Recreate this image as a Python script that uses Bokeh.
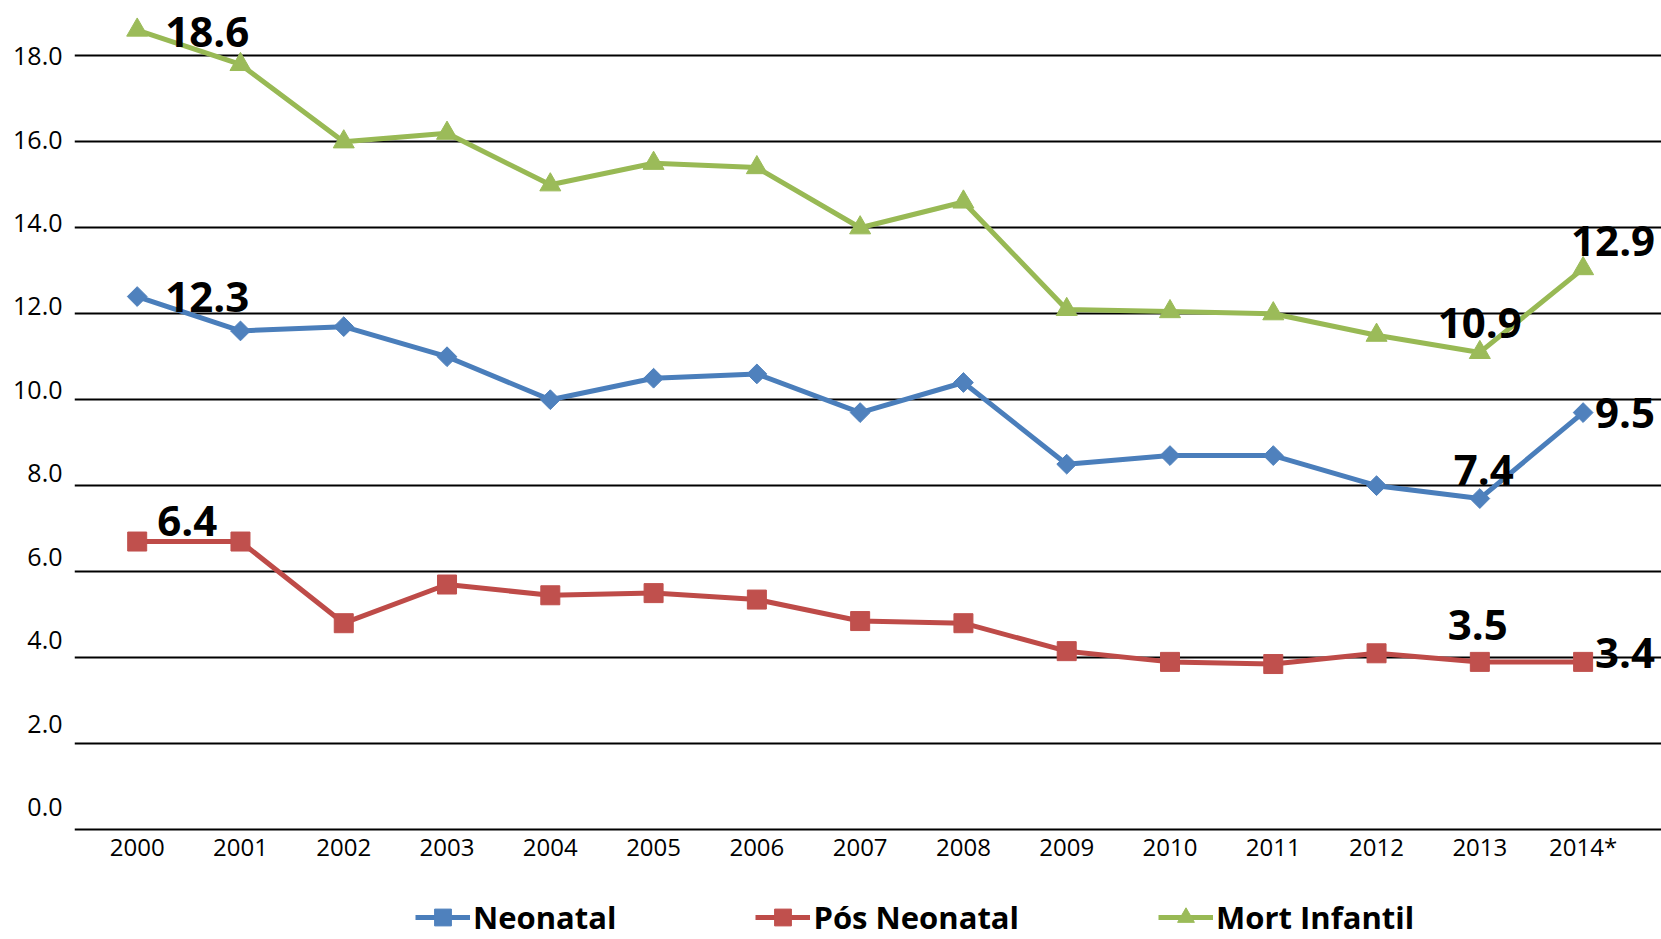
import math
from bokeh.plotting import figure
from bokeh.models import (Range1d, LinearAxis, FixedTicker, Legend, LegendItem,
                          ColumnDataSource)
from bokeh.core.properties import value
from bokeh.embed import file_html
from bokeh.resources import INLINE

# ---------------- data ----------------
years = [2000, 2001, 2002, 2003, 2004, 2005, 2006, 2007, 2008, 2009, 2010, 2011, 2012, 2013, 2014]
year_labels = ["2000", "2001", "2002", "2003", "2004", "2005", "2006", "2007", "2008",
               "2009", "2010", "2011", "2012", "2013", "2014*"]

neonatal = [12.4, 11.6, 11.7, 11.0, 10.0, 10.5, 10.6, 9.7, 10.4, 8.5, 8.7, 8.7, 8.0, 7.7, 9.7]
pos_neonatal = [6.7, 6.7, 4.8, 5.7, 5.45, 5.5, 5.35, 4.85, 4.8, 4.15, 3.9, 3.85, 4.1, 3.9, 3.9]
mort_infantil = [18.6, 17.8, 16.0, 16.2, 15.0, 15.5, 15.4, 14.0, 14.6, 12.1, 12.05, 12.0, 11.5, 11.1, 13.05]

series_names = ["Neonatal", "Pós Neonatal", "Mort Infantil"]

y_ticks = [0, 2, 4, 6, 8, 10, 12, 14, 16, 18]
y_tick_labels = ["0.0", "2.0", "4.0", "6.0", "8.0", "10.0", "12.0", "14.0", "16.0", "18.0"]

# data labels shown on the chart
label_series = ["Mort Infantil", "Neonatal", "Pós Neonatal", "Mort Infantil", "Mort Infantil",
                "Neonatal", "Neonatal", "Pós Neonatal", "Pós Neonatal"]
label_years = [2000, 2000, 2000, 2013, 2014, 2013, 2014, 2013, 2014]
label_texts = ["18.6", "12.3", "6.4", "10.9", "12.9", "7.4", "9.5", "3.5", "3.4"]

# ---------------- styling ----------------
FONT = "Open Sans"
colors = {"Neonatal": "#4A7EBB", "Pós Neonatal": "#BE4B48", "Mort Infantil": "#98B954"}
marker_fill = {"Neonatal": "#4F81BD", "Pós Neonatal": "#C0504D", "Mort Infantil": "#9BBB59"}
markers = {"Neonatal": "square", "Pós Neonatal": "square", "Mort Infantil": "triangle"}
msizes = {"Neonatal": 14, "Pós Neonatal": 19, "Mort Infantil": 21}
mangles = {"Neonatal": math.pi / 4, "Pós Neonatal": 0.0, "Mort Infantil": 0.0}
series_vals = {"Neonatal": neonatal, "Pós Neonatal": pos_neonatal, "Mort Infantil": mort_infantil}

# per-label screen offsets (px) and alignment
label_dx = [28, 28, 20, 0, 30, 4, 42, -2, 42]
label_dy = [2, 0, -21, -29, -28, -29, 0, -37, -9]
label_align = ["left", "left", "left", "center", "center", "center", "center", "center", "center"]

# frame fills the figure height; the x axis is pinned at y = 0 so the legend
# can sit beneath it inside the frame
p = figure(width=1661, height=939,
           x_range=Range1d(1999.393, 2014.759), y_range=Range1d(-2.559, 19.288),
           output_backend="svg", toolbar_location=None,
           y_axis_location=None,
           min_border_left=74, min_border_right=0, min_border_top=0, min_border_bottom=0)
p.outline_line_color = None
p.background_fill_color = "white"
p.border_fill_color = "white"

# x axis
xa = p.xaxis[0]
xa.fixed_location = 0
xa.ticker = FixedTicker(ticks=years)
xa.major_label_overrides = {y: l for y, l in zip(years, year_labels)}
xa.axis_line_color = "black"
xa.axis_line_width = 2
xa.major_tick_line_color = None
xa.minor_tick_line_color = None
xa.major_tick_out = 0
xa.major_tick_in = 0
xa.major_label_standoff = 0
xa.major_label_text_font = FONT
xa.major_label_text_font_size = "24px"
xa.major_label_text_color = "black"
p.xgrid.visible = False

# horizontal gridlines
p.ygrid.ticker = FixedTicker(ticks=y_ticks[1:])
p.ygrid.grid_line_color = "black"
p.ygrid.grid_line_width = 2

# y axis labels (sit above their gridlines in the original)
p.extra_y_ranges = {"lab": Range1d(-3.1766, 19.335)}
ya = LinearAxis(y_range_name="lab", ticker=FixedTicker(ticks=y_ticks),
                major_label_overrides={t: l for t, l in zip(y_ticks, y_tick_labels)},
                axis_line_color=None, major_tick_line_color=None, minor_tick_line_color=None,
                major_tick_out=0, major_tick_in=0, major_label_standoff=12,
                major_label_text_font=FONT, major_label_text_font_size="25px",
                major_label_text_color="black")
p.add_layout(ya, "left")

items = []
for name in series_names:
    vals = series_vals[name]
    rl = p.line(years, vals, line_color=colors[name], line_width=5)
    rm = p.scatter(years, vals, marker=markers[name], size=msizes[name], angle=mangles[name],
                   fill_color=marker_fill[name], line_color=marker_fill[name], line_width=1)
    items.append(LegendItem(label=name, renderers=[rl, rm]))

# data labels
lx, ly = [], []
for s, yr in zip(label_series, label_years):
    lx.append(yr)
    ly.append(series_vals[s][years.index(yr)])
src = ColumnDataSource(dict(x=lx, y=ly, text=label_texts, dx=label_dx, dy=label_dy, align=label_align))
p.text(x="x", y="y", text="text", x_offset="dx", y_offset="dy", text_align="align",
       text_baseline="middle", source=src, text_font=value(FONT), text_font_style="bold",
       text_font_size="42px", text_color="black")

legend = Legend(items=items, orientation="horizontal", location=(341, 1),
                glyph_width=55, glyph_height=42, label_standoff=3, spacing=139,
                padding=0, margin=0, label_text_font=FONT, label_text_font_size="31px",
                label_text_font_style="bold", label_text_color="black",
                background_fill_alpha=0, border_line_color=None)
p.add_layout(legend)

open("out.html", "w").write(file_html(p, INLINE))
